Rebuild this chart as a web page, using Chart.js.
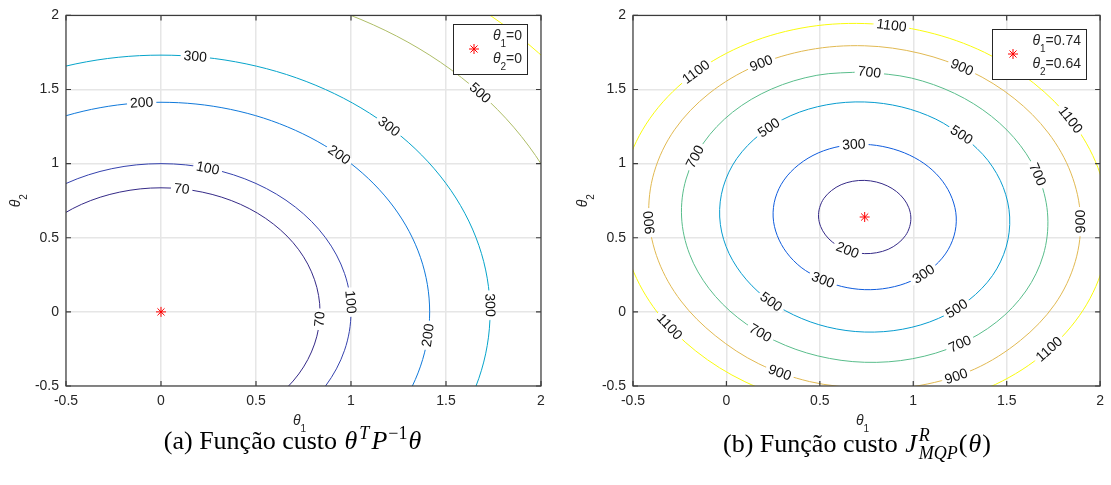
<!DOCTYPE html>
<html>
<head>
<meta charset="utf-8">
<title>Funções custo</title>
<script src="https://cdn.jsdelivr.net/npm/chart.js@4.4.1/dist/chart.umd.min.js"></script>
<style>
  html, body { margin: 0; padding: 0; background: #fff; }
  #page { position: relative; width: 1111px; height: 485px; overflow: hidden; }
  canvas { position: absolute; top: 0; }
  #ca { left: 0; }
  #cb { left: 566px; }
  .cap { position: absolute; top: 426px; font-family: "Liberation Serif", "Times New Roman", serif; font-size: 26px; line-height: 30px; color: #000; text-align: center; white-space: nowrap; }
  #capA { left: 0; width: 586px; }
  #capB { left: 586px; width: 542px; }
  .cap i { margin: 0 1px; }
  .cap sup { font-size: 18px; vertical-align: 10px; line-height: 0; }
  .st { display: inline-block; vertical-align: -7px; font-size: 18px; line-height: 1; text-align: left; }
  .st span { display: block; }
</style>
</head>
<body>
<div id="page">
  <canvas id="ca" width="560" height="445"></canvas>
  <canvas id="cb" width="545" height="445"></canvas>
  <div class="cap" id="capA">(a) Função custo <i>θ</i><sup><i>T</i></sup><i>P</i><sup>−1</sup><i>θ</i></div>
  <div class="cap" id="capB">(b) Função custo <i>J</i><span class="st"><span><i>R</i></span><span><i>MQP</i></span></span>(<i>θ</i>)</div>
</div>
<script>
// ticks on both axes of both plots
const tickVals = [-0.5, 0, 0.5, 1, 1.5, 2];

// (a) contours of theta' P^-1 theta
const levelsA = [70, 100, 200, 300, 500, 700];
const a70 = [[-0.725,0.419],[-0.592,0.592],[-0.419,0.725],[-0.217,0.808],[0,0.837],[0.217,0.808],[0.419,0.725],[0.592,0.592],[0.725,0.419],[0.808,0.217],[0.837,0],[0.808,-0.217],[0.725,-0.419],[0.592,-0.592],[0.419,-0.725]];
const a100 = [[-0.866,0.5],[-0.707,0.707],[-0.5,0.866],[-0.259,0.966],[0,1],[0.259,0.966],[0.5,0.866],[0.707,0.707],[0.866,0.5],[0.966,0.259],[1,0],[0.966,-0.259],[0.866,-0.5],[0.707,-0.707],[0.5,-0.866]];
const a200 = [[-1,1],[-0.707,1.225],[-0.366,1.366],[0,1.414],[0.366,1.366],[0.707,1.225],[1,1],[1.225,0.707],[1.366,0.366],[1.414,0],[1.366,-0.366],[1.225,-0.707],[1,-1]];
const a300 = [[-1.225,1.225],[-0.866,1.5],[-0.448,1.673],[0,1.732],[0.448,1.673],[0.866,1.5],[1.225,1.225],[1.5,0.866],[1.673,0.448],[1.732,0],[1.673,-0.448],[1.5,-0.866],[1.225,-1.225]];
const a500 = [[0,2.236],[0.579,2.16],[1.118,1.936],[1.581,1.581],[1.936,1.118],[2.16,0.579],[2.236,0]];
const a700 = [[0.685,2.556],[1.323,2.291],[1.871,1.871],[2.291,1.323],[2.556,0.685]];
const curvesA = [a70, a100, a200, a300, a500, a700];
const optA = [0, 0];

// (b) contours of J^R_MQP
const levelsB = [200, 300, 500, 700, 900, 1100];
const b200 = [[0.619,0.430],[0.677,0.404],[0.740,0.393],[0.804,0.399],[0.866,0.422],[0.918,0.462],[0.958,0.514],[0.981,0.576],[0.987,0.640],[0.976,0.703],[0.950,0.761],[0.911,0.811],[0.861,0.850],[0.803,0.876],[0.740,0.887],[0.676,0.881],[0.614,0.858],[0.562,0.818],[0.522,0.766],[0.499,0.704],[0.493,0.640],[0.504,0.577],[0.530,0.519],[0.569,0.469],[0.619,0.430]];
const b300 = [[0.499,0.223],[0.615,0.172],[0.740,0.150],[0.868,0.162],[0.989,0.208],[1.093,0.287],[1.172,0.391],[1.218,0.512],[1.230,0.640],[1.208,0.765],[1.157,0.881],[1.080,0.980],[0.981,1.057],[0.865,1.108],[0.740,1.130],[0.612,1.118],[0.491,1.072],[0.387,0.993],[0.308,0.889],[0.262,0.768],[0.250,0.640],[0.272,0.515],[0.323,0.399],[0.400,0.300],[0.499,0.223]];
const b500 = [[1.278,1.178],[1.121,1.300],[0.939,1.382],[0.740,1.416],[0.537,1.397],[0.345,1.324],[0.181,1.199],[0.056,1.035],[-0.017,0.843],[-0.036,0.640],[-0.002,0.441],[0.080,0.259],[0.202,0.102],[0.359,-0.020],[0.541,-0.102],[0.740,-0.136],[0.943,-0.117],[1.135,-0.044],[1.299,0.081],[1.424,0.245],[1.497,0.437],[1.516,0.640],[1.482,0.839],[1.400,1.021],[1.278,1.178]];
const b700 = [[0.740,1.620],[0.484,1.596],[0.241,1.503],[0.033,1.347],[-0.123,1.139],[-0.216,0.896],[-0.240,0.640],[-0.197,0.389],[-0.094,0.159],[0.061,-0.039],[0.259,-0.194],[0.489,-0.297],[0.740,-0.340],[0.996,-0.316],[1.239,-0.223],[1.447,-0.067],[1.603,0.141],[1.696,0.384],[1.720,0.640],[1.677,0.891],[1.574,1.121],[1.419,1.319],[1.221,1.474],[0.991,1.577],[0.740,1.620]];
const b900 = [[0.740,-0.523],[1.041,-0.495],[1.328,-0.386],[1.573,-0.193],[1.758,0.052],[1.867,0.339],[1.895,0.640],[1.844,0.936],[1.723,1.207],[1.540,1.440],[1.307,1.623],[1.036,1.744],[0.740,1.795],[0.439,1.767],[0.152,1.658],[-0.093,1.473],[-0.278,1.228],[-0.387,0.941],[-0.415,0.640],[-0.364,0.344],[-0.243,0.073],[-0.060,-0.160],[0.173,-0.350],[0.444,-0.470],[0.740,-0.523]];
const b1100 = [[-0.565,0.640],[-0.508,0.306],[-0.371,-0.001],[-0.164,-0.264],[0.099,-0.471],[0.406,-0.608],[0.740,-0.665],[1.081,-0.634],[1.404,-0.510],[1.681,-0.301],[1.890,-0.024],[2.014,0.299],[2.045,0.640],[1.988,0.974],[1.851,1.281],[1.644,1.544],[1.381,1.751],[1.074,1.888],[0.740,1.945],[0.399,1.914],[0.076,1.790],[-0.201,1.581],[-0.410,1.304],[-0.534,0.981],[-0.565,0.640]];
const curvesB = [b200, b300, b500, b700, b900, b1100];
const optB = [0.74, 0.64];

// where each level number is written along its curve ('up'/'down' picks the reading side when vertical)
const spotsA = [
  [[0.111,0.823],[0.825,-0.051,'up']],
  [[0.243,0.958],[0.982,0.065,'down']],
  [[-0.10,1.395],[0.935,1.047],[1.40,-0.159,'up']],
  [[0.183,1.709],[1.195,1.231],[1.716,0.05,'down']],
  [[1.664,1.467]],
  []
];
const spotsB = [
  [[0.644,0.404]],
  [[0.684,1.119],[0.512,0.202],[1.061,0.24]],
  [[0.228,1.24],[1.249,1.179],[0.232,0.056],[1.24,0.011]],
  [[-0.167,1.045],[0.766,1.618],[1.653,0.921],[0.175,-0.158],[1.258,-0.23]],
  [[0.187,1.681],[1.254,1.634],[-0.409,0.6,'up'],[0.281,-0.416],[1.232,-0.427],[1.893,0.606,'up']],
  [[-0.167,1.618],[0.88,1.921],[1.828,1.281],[-0.304,-0.102],[1.728,-0.259]]
];

// parula colours per level
const colorsA = ['#352a87', '#3542ad', '#1079da', '#06a4ca', '#aebd67', '#f9fb0e'];
const colorsB = ['#352a87', '#0f5cdd', '#079ccf', '#59bd8b', '#e1b952', '#f9fb0e'];

const TXT = '#262626';
const SANS = '"Liberation Sans", Arial, Helvetica, sans-serif';

// text made of pieces: [string, kind] with kind '' normal, 'i' italic, 's' subscript
function partFont(kind) {
  if (kind === 'i') return 'italic 14px ' + SANS;
  if (kind === 's') return '10px ' + SANS;
  return '14px ' + SANS;
}
function richWidth(ctx, parts) {
  let w = 0;
  parts.forEach(p => { ctx.font = partFont(p[1]); w += ctx.measureText(p[0]).width; });
  return w;
}
function drawRich(ctx, parts, x, y, align) {
  const w = richWidth(ctx, parts);
  let cx = align === 'center' ? x - w / 2 : (align === 'right' ? x - w : x);
  ctx.textAlign = 'left';
  ctx.textBaseline = 'middle';
  ctx.fillStyle = TXT;
  parts.forEach(p => {
    ctx.font = partFont(p[1]);
    ctx.fillText(p[0], cx, p[1] === 's' ? y + 8 : y);
    cx += ctx.measureText(p[0]).width;
  });
}

// closest spot on the drawn spline, with its direction
function nearestOnCurve(pts, px, py) {
  let best = null;
  for (let i = 0; i < pts.length - 1; i++) {
    const a = pts[i], b = pts[i + 1];
    const c1x = a.cp2x ?? a.x, c1y = a.cp2y ?? a.y;
    const c2x = b.cp1x ?? b.x, c2y = b.cp1y ?? b.y;
    for (let k = 0; k <= 40; k++) {
      const t = k / 40, u = 1 - t;
      const x = u*u*u*a.x + 3*u*u*t*c1x + 3*u*t*t*c2x + t*t*t*b.x;
      const y = u*u*u*a.y + 3*u*u*t*c1y + 3*u*t*t*c2y + t*t*t*b.y;
      const d = (x - px) * (x - px) + (y - py) * (y - py);
      if (!best || d < best.d) {
        const dx = 3*u*u*(c1x - a.x) + 6*u*t*(c2x - c1x) + 3*t*t*(b.x - c2x);
        const dy = 3*u*u*(c1y - a.y) + 6*u*t*(c2y - c1y) + 3*t*t*(b.y - c2y);
        best = { d, x, y, ang: Math.atan2(dy, dx) };
      }
    }
  }
  return best;
}

const contourLabels = {
  id: 'contourLabels',
  afterDatasetsDraw(chart) {
    const { ctx, chartArea: c } = chart;
    const xs = chart.scales.x, ys = chart.scales.y;
    ctx.save();
    ctx.beginPath();
    ctx.rect(c.left, c.top, c.right - c.left, c.bottom - c.top);
    ctx.clip();
    ctx.font = '14px ' + SANS;
    chart.data.datasets.forEach((ds, i) => {
      if (!ds.spots) return;
      const pts = chart.getDatasetMeta(i).data;
      ds.spots.forEach(s => {
        const hit = nearestOnCurve(pts, xs.getPixelForValue(s[0]), ys.getPixelForValue(s[1]));
        if (!hit) return;
        let ang = hit.ang;
        if (ang > Math.PI / 2) ang -= Math.PI;
        if (ang <= -Math.PI / 2) ang += Math.PI;
        if (s[2] === 'up' && ang > 0) ang -= Math.PI;
        if (s[2] === 'down' && ang < 0) ang += Math.PI;
        const txt = String(ds.level);
        const w = ctx.measureText(txt).width;
        ctx.save();
        ctx.translate(hit.x, hit.y);
        ctx.rotate(ang);
        ctx.fillStyle = '#fff';
        ctx.fillRect(-w / 2 - 3, -4, w + 6, 8);
        ctx.fillStyle = '#111';
        ctx.textAlign = 'center';
        ctx.textBaseline = 'middle';
        ctx.fillText(txt, 0, 0.5);
        ctx.restore();
      });
    });
    ctx.restore();
  }
};

// box, inward ticks, axis names and the legend with the optimum
const frame = {
  id: 'frame',
  afterDraw(chart, args, o) {
    const { ctx, chartArea: c } = chart;
    const xs = chart.scales.x, ys = chart.scales.y;
    ctx.save();
    ctx.strokeStyle = '#3c3c3c';
    ctx.lineWidth = 1.2;
    ctx.strokeRect(c.left, c.top, c.right - c.left, c.bottom - c.top);
    ctx.beginPath();
    tickVals.forEach(v => {
      const x = xs.getPixelForValue(v), y = ys.getPixelForValue(v);
      ctx.moveTo(x, c.bottom); ctx.lineTo(x, c.bottom - 5);
      ctx.moveTo(x, c.top); ctx.lineTo(x, c.top + 5);
      ctx.moveTo(c.left, y); ctx.lineTo(c.left + 5, y);
      ctx.moveTo(c.right, y); ctx.lineTo(c.right - 5, y);
    });
    ctx.stroke();

    drawRich(ctx, [['θ', 'i'], ['1', 's']], (c.left + c.right) / 2 - 4, c.bottom + 35, 'center');
    ctx.save();
    ctx.translate(c.left - 50, (c.top + c.bottom) / 2);
    ctx.rotate(-Math.PI / 2);
    drawRich(ctx, [['θ', 'i'], ['2', 's']], 0, 0, 'center');
    ctx.restore();

    const lines = [
      [['θ', 'i'], ['1', 's'], ['=' + o.opt[0], '']],
      [['θ', 'i'], ['2', 's'], ['=' + o.opt[1], '']]
    ];
    const tw = Math.max(richWidth(ctx, lines[0]), richWidth(ctx, lines[1]));
    const w = Math.round(40 + tw + 5), h = 50;
    const bx = Math.round(c.right - 14 - w), by = Math.round(c.top + o.top);
    ctx.fillStyle = '#fff';
    ctx.fillRect(bx, by, w, h);
    ctx.strokeStyle = TXT;
    ctx.lineWidth = 1;
    ctx.strokeRect(bx + 0.5, by + 0.5, w, h);
    ctx.strokeStyle = '#ff0000';
    ctx.fillStyle = '#ff0000';
    Chart.helpers.drawPoint(ctx, { pointStyle: 'star', radius: 5, borderWidth: 1, rotation: 0 }, bx + 21, by + 25);
    drawRich(ctx, lines[0], bx + w - 5, by + 12, 'right');
    drawRich(ctx, lines[1], bx + w - 5, by + 35, 'right');
    ctx.restore();
  }
};

function axis(fitKey, fitVal, pad) {
  return {
    type: 'linear',
    min: -0.5,
    max: 2,
    afterBuildTicks: s => { s.ticks = tickVals.map(v => ({ value: v })); },
    afterFit: s => { s[fitKey] = fitVal; },
    grid: { color: '#e6e6e6', lineWidth: 1.5, drawTicks: false },
    border: { display: false },
    ticks: {
      color: TXT,
      padding: pad,
      maxRotation: 0,
      autoSkip: false,
      font: { family: SANS, size: 14 },
      callback: v => String(v)
    }
  };
}

function contourChart(id, levels, curves, spots, colors, opt, leftW, rightPad, legendTop) {
  const datasets = [{
    data: [{ x: opt[0], y: opt[1] }],
    showLine: false,
    pointStyle: 'star',
    pointRadius: 5,
    borderColor: '#ff0000',
    backgroundColor: '#ff0000',
    borderWidth: 1
  }];
  levels.forEach((lv, i) => {
    datasets.push({
      level: lv,
      spots: spots[i],
      data: curves[i].map(p => ({ x: p[0], y: p[1] })),
      showLine: true,
      borderColor: colors[i],
      borderWidth: 1,
      pointRadius: 0,
      tension: 0.34
    });
  });
  return new Chart(document.getElementById(id), {
    type: 'scatter',
    data: { datasets },
    options: {
      responsive: false,
      animation: false,
      events: [],
      layout: { padding: { left: 0, top: 15, right: rightPad, bottom: 0 } },
      elements: { line: { capBezierPoints: false } },
      scales: {
        x: axis('height', 59, 7),
        y: axis('width', leftW, 7)
      },
      plugins: {
        legend: { display: false },
        tooltip: { enabled: false },
        frame: { opt, top: legendTop }
      }
    },
    plugins: [contourLabels, frame]
  });
}

contourChart('ca', levelsA, curvesA, spotsA, colorsA, optA, 66, 19, 9);
contourChart('cb', levelsB, curvesB, spotsB, colorsB, optB, 67, 4, 14);
</script>
</body>
</html>
